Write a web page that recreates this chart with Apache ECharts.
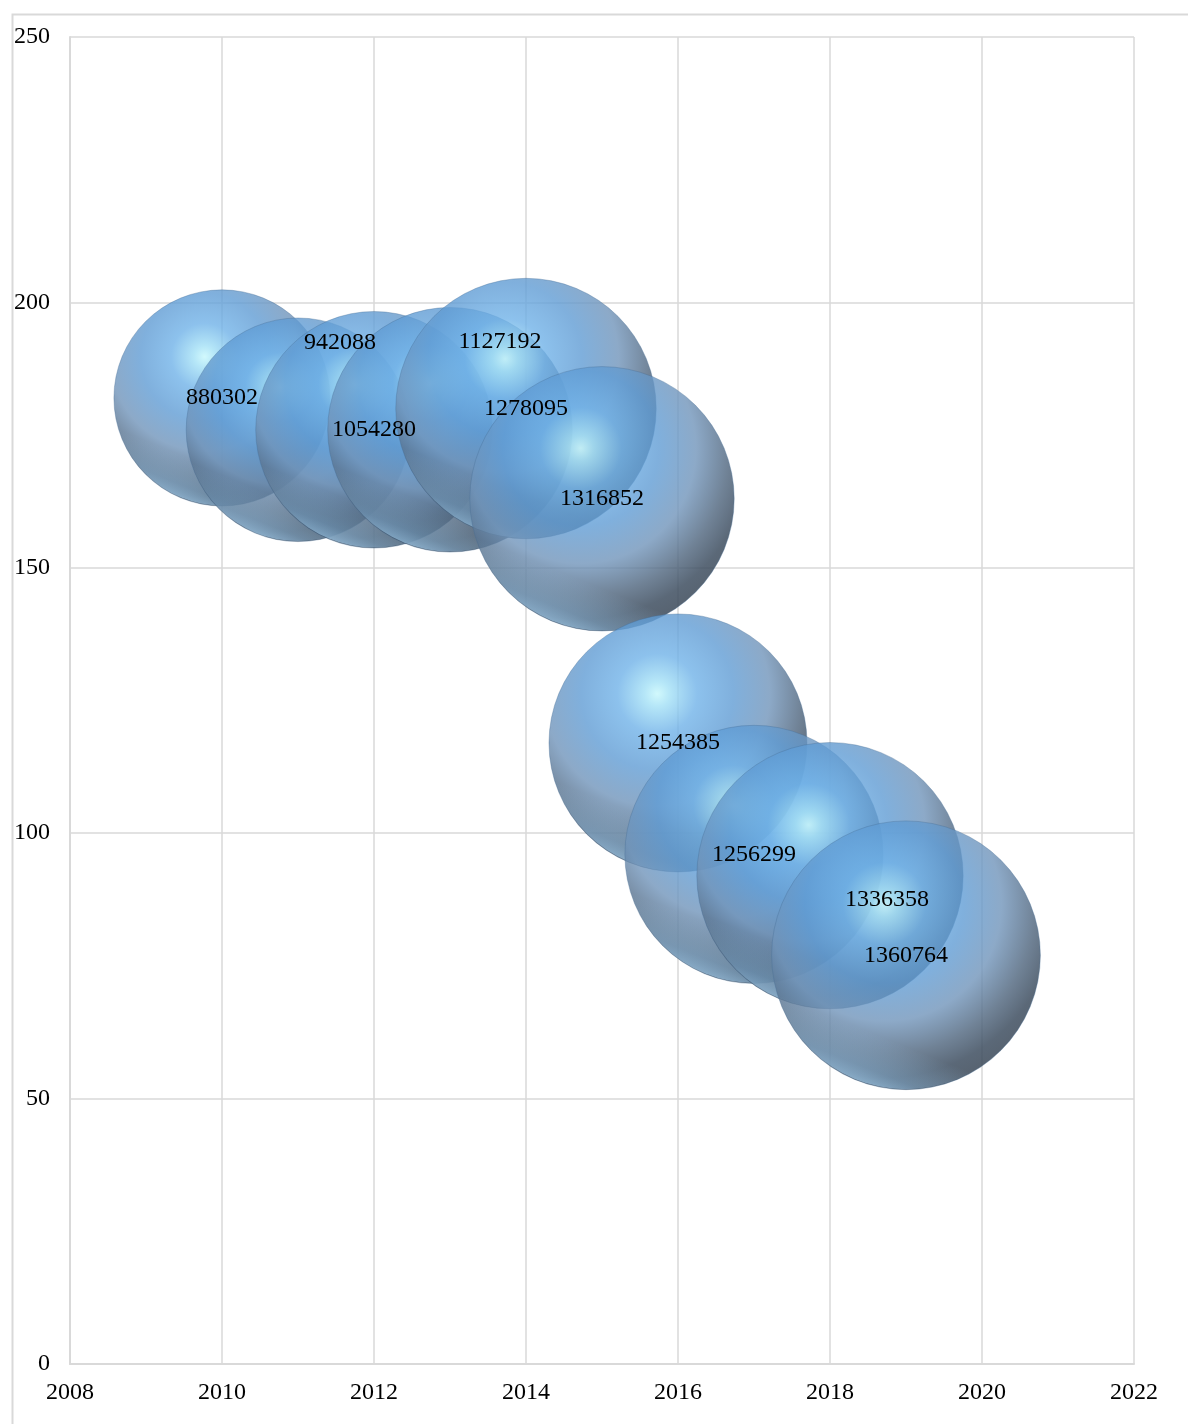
<!DOCTYPE html>
<html>
<head>
<meta charset="utf-8">
<script src="https://cdn.jsdelivr.net/npm/echarts@6/dist/echarts.min.js"></script>
<style>
  html, body { margin: 0; padding: 0; background: #fff; }
  #chart { width: 1188px; height: 1424px; }
</style>
</head>
<body>
<div id="chart"></div>
<script>
// ---- data ----
const years = [2010, 2011, 2012, 2013, 2014, 2015, 2016, 2017, 2018, 2019];
const yValues = [182, 176, 176, 176, 180, 163, 117, 96, 92, 77];
const bubbleSizes = [880302, 942088, 1054280, 1127192, 1278095, 1316852, 1254385, 1256299, 1336358, 1360764];
const xTicks = [2008, 2010, 2012, 2014, 2016, 2018, 2020, 2022];
const yTicks = [0, 50, 100, 150, 200, 250];

// ---- presentation ----
const FONT = '"Liberation Serif", "Times New Roman", serif';
const RADIUS_PER_SQRT = 0.1152; // bubble radius (px) per sqrt(size): area-proportional bubbles
const labelShift = { 2011: [42, -87], 2013: [50, -88], 2018: [57, 24] }; // manually moved labels

const chart = echarts.init(document.getElementById('chart'), null, { renderer: 'canvas' });

const bodyFill = {
  type: 'radial', x: 0.42, y: 0.31, r: 0.7,
  colorStops: [
    { offset: 0.00, color: 'rgba(202,248,252,0.86)' },
    { offset: 0.07, color: 'rgba(165,225,246,0.82)' },
    { offset: 0.22, color: 'rgba(112,178,232,0.80)' },
    { offset: 0.42, color: 'rgba(96,156,212,0.80)' },
    { offset: 0.62, color: 'rgba(112,148,186,0.80)' },
    { offset: 0.80, color: 'rgba(80,102,126,0.82)' },
    { offset: 0.92, color: 'rgba(62,78,96,0.85)' },
    { offset: 1.00, color: 'rgba(60,74,90,0.86)' }
  ]
};
const rimFill = {
  type: 'linear', x: 0.72, y: 0.0, x2: 0.32, y2: 1.0,
  colorStops: [
    { offset: 0.00, color: 'rgba(160,210,250,0)' },
    { offset: 0.80, color: 'rgba(160,210,250,0)' },
    { offset: 0.92, color: 'rgba(150,205,248,0.35)' },
    { offset: 1.00, color: 'rgba(175,220,252,0.75)' }
  ]
};

const seriesData = years.map((yr, i) => [yr, yValues[i], bubbleSizes[i]]);

chart.setOption({
  animation: false,
  backgroundColor: '#ffffff',
  graphic: [{
    type: 'rect', left: 10, top: 12, z: -10,
    shape: { width: 1250, height: 1500 },
    style: { fill: 'none', stroke: '#d9d9d9', lineWidth: 2 }
  }],
  grid: { left: 70, right: 54, top: 37, bottom: 60, containLabel: false },
  xAxis: {
    type: 'value', min: xTicks[0], max: xTicks[xTicks.length - 1], interval: 2,
    axisLine: { show: true, lineStyle: { color: '#d9d9d9', width: 2 } },
    axisTick: { show: false },
    splitLine: { show: true, lineStyle: { color: '#d9d9d9', width: 1.5 } },
    axisLabel: { color: '#000', fontFamily: FONT, fontSize: 24, margin: 17,
      formatter: v => xTicks.includes(v) ? String(v) : '' }
  },
  yAxis: {
    type: 'value', min: yTicks[0], max: yTicks[yTicks.length - 1], interval: 50,
    axisLine: { show: true, lineStyle: { color: '#d9d9d9', width: 2 } },
    axisTick: { show: false },
    splitLine: { show: true, lineStyle: { color: '#d9d9d9', width: 1.5 } },
    axisLabel: { color: '#000', fontFamily: FONT, fontSize: 24, margin: 20,
      formatter: v => yTicks.includes(v) ? String(v) : '' }
  },
  series: [{
    type: 'custom',
    data: seriesData,
    clip: false,
    renderItem: function (params, api) {
      const yr = api.value(0);
      const c = api.coord([yr, api.value(1)]);
      const size = api.value(2);
      const r = RADIUS_PER_SQRT * Math.sqrt(size);
      const off = labelShift[yr] || [0, 0];
      return {
        type: 'group',
        children: [
          { type: 'circle', shape: { cx: c[0], cy: c[1], r: r },
            style: { fill: bodyFill, stroke: 'rgba(70,110,150,0.35)', lineWidth: 1 } },
          { type: 'circle', shape: { cx: c[0], cy: c[1], r: r - 0.5 },
            style: { fill: rimFill } },
          { type: 'text', z2: 100,
            style: { text: String(size), x: c[0] + off[0], y: c[1] + off[1],
              align: 'center', verticalAlign: 'middle',
              font: '24px ' + FONT, fill: '#000' } }
        ]
      };
    }
  }]
});
</script>
</body>
</html>
